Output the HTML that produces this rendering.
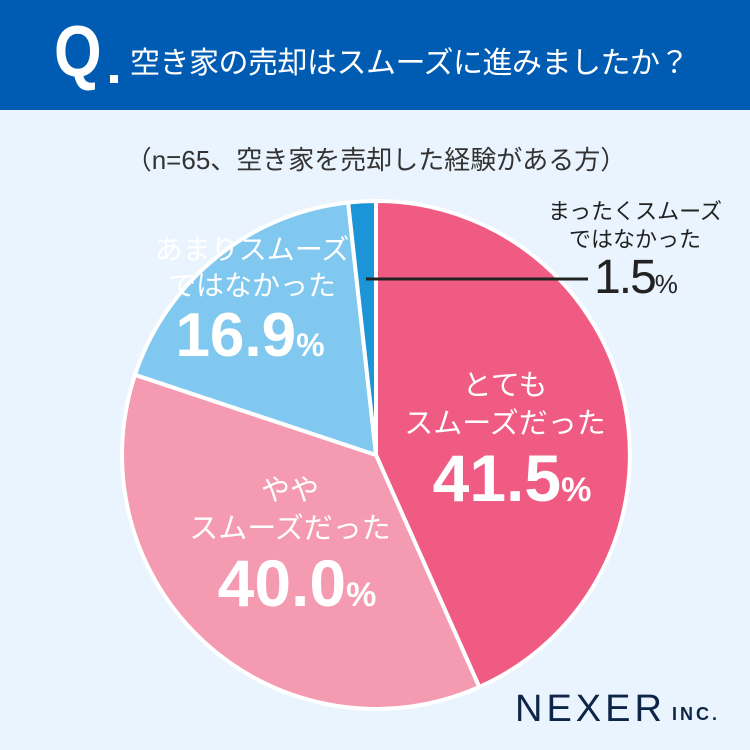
<!DOCTYPE html>
<html><head><meta charset="utf-8"><style>
body{margin:0;width:750px;height:750px;background:#eaf4fe;overflow:hidden;font-family:"Liberation Sans","Noto Sans CJK JP",sans-serif}
.t{position:absolute;white-space:nowrap;transform:translateX(-50%);text-align:center}
</style></head><body>
<div style="position:absolute;left:0;top:0;width:750px;height:110px;background:#005bb2"></div>
<div style="position:absolute;left:54px;top:12px;color:#fff;font-size:72px;font-weight:bold;transform:scaleX(0.85);transform-origin:left;line-height:80px">Q</div>
<div style="position:absolute;left:110px;top:75px;width:8px;height:8px;background:#fff"></div>
<div style="position:absolute;left:130px;top:38px;color:#fff;font-size:30px;letter-spacing:-0.5px">空き家の売却はスムーズに進みましたか？</div>
<div class="t" style="left:376px;top:140px;font-size:26px;color:#333">（n=65、空き家を売却した経験がある方）</div>
<svg width="750" height="750" style="position:absolute;left:0;top:0">
<g stroke="#fff" stroke-width="4" stroke-linejoin="round">
<path d="M376,455 L376,201 A254,254 0 0 1 479.3,687 Z" fill="#f05b83"/>
<path d="M376,455 L479.3,687 A254,254 0 0 1 135,374.8 Z" fill="#f49bb1"/>
<path d="M376,455 L135,374.8 A254,254 0 0 1 348.1,202.5 Z" fill="#80c8ef"/>
<path d="M376,455 L348.1,202.5 A254,254 0 0 1 376,201 Z" fill="#1b95d8"/>
</g>
<line x1="366" y1="279" x2="588" y2="279" stroke="#222" stroke-width="3"/>
</svg>
<div class="t" style="left:635px;top:198px;font-size:22px;color:#222;line-height:28px">まったくスムーズ<br>ではなかった</div>
<div class="t" style="left:635px;top:250px;font-size:48px;color:#222;letter-spacing:-2px">1.5<span style="font-size:26px">%</span></div>
<div class="t" style="left:252px;top:232px;font-size:28px;color:#fff;line-height:36px">あまりスムーズ<br>ではなかった</div>
<div class="t" style="left:250px;top:300px;font-size:62px;font-weight:bold;color:#fff">16.9<span style="font-size:32px">%</span></div>
<div class="t" style="left:505px;top:367px;font-size:29px;color:#fff;line-height:38px">とても<br>スムーズだった</div>
<div class="t" style="left:512px;top:440px;font-size:66px;font-weight:bold;color:#fff">41.5<span style="font-size:34px">%</span></div>
<div class="t" style="left:290px;top:472px;font-size:29px;color:#fff;line-height:38px">やや<br>スムーズだった</div>
<div class="t" style="left:297px;top:545px;font-size:66px;font-weight:bold;color:#fff">40.0<span style="font-size:34px">%</span></div>
<div style="position:absolute;left:515px;top:688px;font-size:38px;color:#0d2546;letter-spacing:4px">NEXER</div>
<div style="position:absolute;left:672px;top:704px;font-size:18px;font-weight:bold;color:#0d2546;letter-spacing:3px">INC.</div>
</body></html>
